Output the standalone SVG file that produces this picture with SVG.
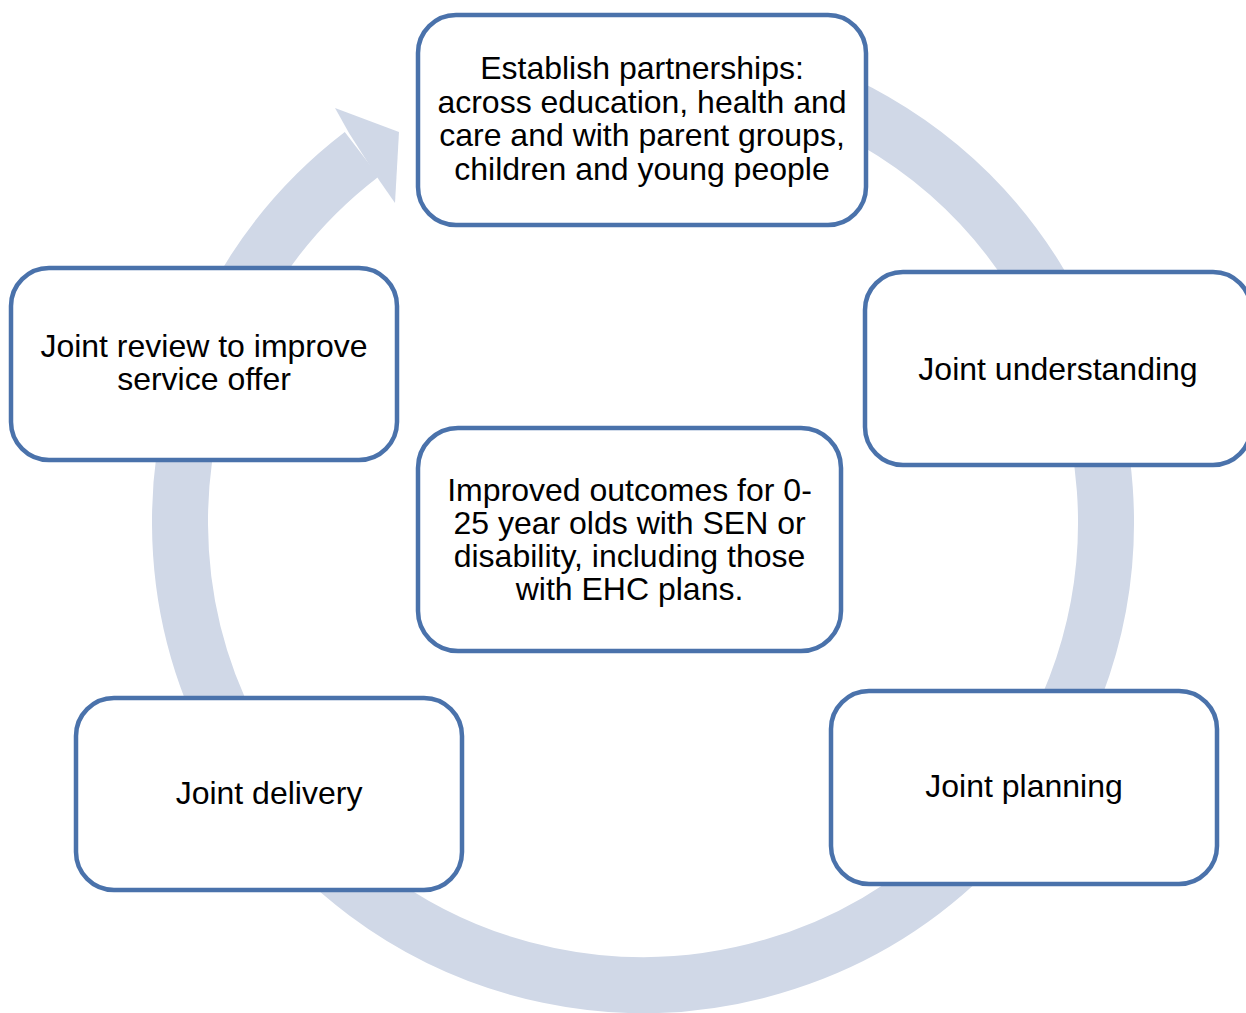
<svg xmlns="http://www.w3.org/2000/svg" width="1246" height="1013" viewBox="0 0 1246 1013">
<style>
.box{fill:#ffffff;stroke:#4A72AB;stroke-width:4.5}
.t{font-family:"Liberation Sans",Arial,sans-serif;font-size:32px;fill:#000000;text-anchor:middle}
.ring{fill:none;stroke:#D0D8E7;stroke-width:56}
</style>
<rect width="1246" height="1013" fill="#ffffff"/>
<g id="connectors">
<path class="ring" d="M 683.4 60.8 A 463 463 0 1 1 361.8 154.2"/>
<polygon points="349,133 335,108 399,132 395,203 379,180" fill="#D0D8E7"/>
</g>
<g id="node-establish">
<rect class="box" x="418" y="15" width="448" height="210" rx="38"/>
<text class="t" x="642" y="79">Establish partnerships:</text>
<text class="t" x="642" y="112.5">across education, health and</text>
<text class="t" x="642" y="146">care and with parent groups,</text>
<text class="t" x="642" y="179.5">children and young people</text>
</g>
<g id="node-understanding">
<rect class="box" x="865" y="272" width="386" height="193" rx="38"/>
<text class="t" x="1058" y="380">Joint understanding</text>
</g>
<g id="node-review">
<rect class="box" x="11" y="268" width="386" height="192" rx="38"/>
<text class="t" x="204" y="357">Joint review to improve</text>
<text class="t" x="204" y="390">service offer</text>
</g>
<g id="node-outcomes">
<rect class="box" x="418" y="428" width="423" height="223" rx="40"/>
<text class="t" x="629.5" y="501">Improved outcomes for 0-</text>
<text class="t" x="629.5" y="534">25 year olds with SEN or</text>
<text class="t" x="629.5" y="567">disability, including those</text>
<text class="t" x="629.5" y="600">with EHC plans.</text>
</g>
<g id="node-delivery">
<rect class="box" x="76" y="698" width="386" height="192" rx="38"/>
<text class="t" x="269" y="804">Joint delivery</text>
</g>
<g id="node-planning">
<rect class="box" x="831" y="691" width="386" height="193" rx="38"/>
<text class="t" x="1024" y="797">Joint planning</text>
</g>
</svg>
